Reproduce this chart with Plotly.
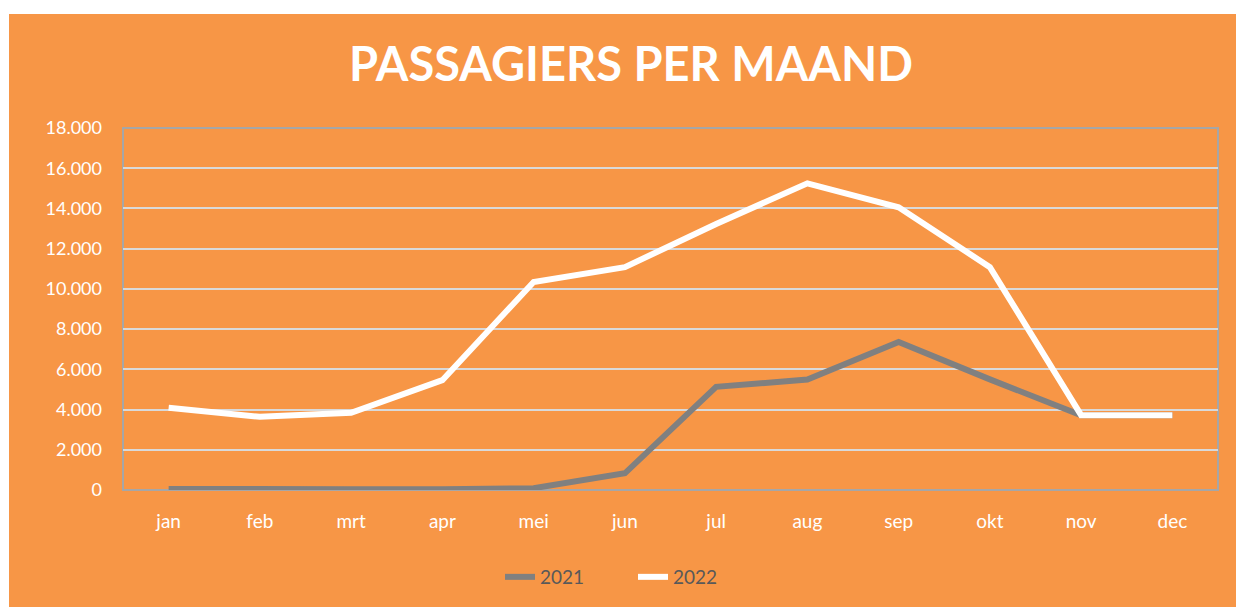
import plotly.graph_objects as go

months = ["jan", "feb", "mrt", "apr", "mei", "jun", "jul", "aug", "sep", "okt", "nov", "dec"]
pax_2021 = [50, 20, 40, 40, 90, 830, 5130, 5490, 7360, 5500, 3720, 3720]
pax_2022 = [4090, 3640, 3840, 5460, 10340, 11080, 13230, 15250, 14060, 11080, 3720, 3720]
y_ticks = [0, 2000, 4000, 6000, 8000, 10000, 12000, 14000, 16000, 18000]

ORANGE = "#F79646"
W, H = 1236, 607
L, R, T, B = 123, 18, 128, 117
pw, ph = W - L - R, H - T - B

fig = go.Figure()
fig.add_trace(go.Scatter(x=months, y=pax_2021, name="2021", mode="lines",
                         line=dict(color="#808080", width=6)))
fig.add_trace(go.Scatter(x=months, y=pax_2022, name="2022", mode="lines",
                         line=dict(color="#FFFFFF", width=6)))

def px2x(p):
    return (p - L) / pw

def py2y(p):
    return (H - B - p) / ph

shapes = [
    # white strips outside the orange panel
    dict(type="rect", xref="paper", yref="paper", x0=px2x(-5), x1=px2x(W + 5),
         y0=py2y(14), y1=py2y(-5), fillcolor="white", line=dict(width=0), layer="below"),
    dict(type="rect", xref="paper", yref="paper", x0=px2x(-5), x1=px2x(9),
         y0=py2y(H + 5), y1=py2y(-5), fillcolor="white", line=dict(width=0), layer="below"),
    # plot area border
    dict(type="rect", xref="paper", yref="paper", x0=0, x1=1, y0=0, y1=1,
         line=dict(color="#A6A6A6", width=2), fillcolor="rgba(0,0,0,0)", layer="below"),
]

fig.update_layout(
    width=W, height=H,
    margin=dict(l=L, r=R, t=T, b=B, autoexpand=False),
    paper_bgcolor=ORANGE, plot_bgcolor=ORANGE,
    separators=",.",
    font=dict(family="Lato", color="white"),
    title=dict(text="<b>PASSAGIERS PER MAAND</b>", x=631 / W, xref="container", xanchor="center",
               y=1 - 65 / H, yanchor="middle", font=dict(size=47, color="white", family="Lato")),
    xaxis=dict(range=[-0.5, 11.5], showgrid=False, zeroline=False, showline=False,
               ticks="", tickfont=dict(size=19, color="white"), ticklabelstandoff=18),
    yaxis=dict(range=[0, 18000], tickvals=y_ticks, tickformat=",d", showgrid=True,
               gridcolor="#D9D9D9", gridwidth=2, zeroline=False, showline=False,
               ticks="", tickfont=dict(size=18, color="white"), ticklabelstandoff=20),
    legend=dict(orientation="h", x=px2x(633), y=py2y(577), xanchor="center", yanchor="middle",
                font=dict(size=19, color="#595959"), bgcolor="rgba(0,0,0,0)",
                entrywidth=88, entrywidthmode="pixels", itemwidth=30),
    showlegend=True,
    shapes=shapes,
)

fig.write_html("out.html", config={"displayModeBar": False},
               post_script="document.body.style.margin='0';")
